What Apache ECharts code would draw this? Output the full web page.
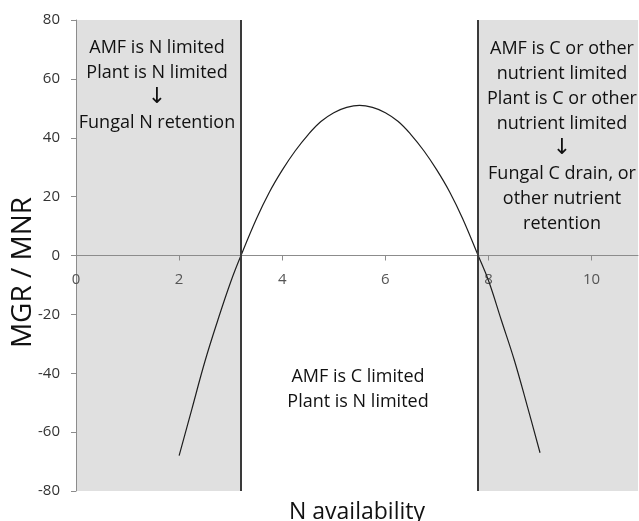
<!DOCTYPE html>
<html><head><meta charset="utf-8">
<script src="https://cdn.jsdelivr.net/npm/echarts@6/dist/echarts.min.js"></script>
<style>html,body{margin:0;padding:0;background:#fff}#c{width:639px;height:521px}</style>
</head><body><div id="c"></div>
<script>
var xValues = [2, 2.25, 2.5, 2.75, 3, 3.2, 3.5, 3.75, 4, 4.25, 4.5, 4.75, 5, 5.25, 5.5, 5.75, 6, 6.25, 6.5, 6.75, 7, 7.25, 7.5, 7.8, 8, 8.25, 8.5, 8.75, 9];
var yValues = [-68, -52, -36, -22, -9, 0, 12.5, 21.5, 29, 35.5, 41, 45.5, 48.5, 50.3, 51, 50.3, 48.5, 45.5, 41, 35.5, 29, 21.5, 12.5, 0, -8.5, -22, -35.5, -51, -67];
var xTicks = [0, 2, 4, 6, 8, 10];
var boundaries = [3.2, 7.8];
var xRange = [0, 10.9];
var yRange = [-80, 80];
var leftText = ['AMF is N limited', 'Plant is N limited', '\u2193', 'Fungal N retention'];
var rightText = ['AMF is C or other', 'nutrient limited', 'Plant is C or other', 'nutrient limited', '\u2193', 'Fungal C drain, or', 'other nutrient', 'retention'];
var midText = ['AMF is C limited', 'Plant is N limited'];

var FONT = 'Open Sans';
var chart = echarts.init(document.getElementById('c'));
var pts = xValues.map(function (x, i) { return [x, yValues[i]]; });
function toRich(lines) {
  return lines.map(function (l) { return l === '\u2193' ? '{a|' + l + '}' : '{t|' + l + '}'; }).join('\n');
}
var rich = {
  t: {fontFamily: FONT, fontSize: 18, color: '#111', lineHeight: 25, align: 'center'},
  a: {fontFamily: 'DejaVu Sans', fontSize: 22, color: '#111', lineHeight: 25, align: 'center'}
};
function txt(cx, top, lines) {
  return {type: 'text', x: cx, y: top, z: 10,
    style: {text: toRich(lines), rich: rich, align: 'center', verticalAlign: 'top', fontFamily: FONT, fontSize: 18, fill: '#111'}};
}
chart.setOption({
  animation: false,
  grid: {left: 76, right: 1, top: 20, bottom: 30, outerBoundsMode: 'none', containLabel: false},
  xAxis: {
    type: 'value', min: xRange[0], max: xRange[1], interval: 2, z: 3,
    name: 'N availability', nameLocation: 'middle', nameGap: 10, nameMoveOverlap: false,
    nameTextStyle: {fontFamily: FONT, fontSize: 23, color: '#111'},
    axisLine: {onZero: true, lineStyle: {color: '#8c8c8c', width: 1}},
    axisTick: {show: true, length: 5, customValues: xTicks, lineStyle: {color: '#8c8c8c'}},
    axisLabel: {customValues: xTicks, margin: -219, fontFamily: FONT, fontSize: 15, color: '#555'},
    splitLine: {show: false}
  },
  yAxis: {
    type: 'value', min: yRange[0], max: yRange[1], interval: 20, z: 3,
    name: 'MGR / MNR', nameLocation: 'middle', nameGap: 39, nameRotate: 90, nameMoveOverlap: false,
    nameTextStyle: {fontFamily: FONT, fontSize: 28, color: '#111', padding: [0, 34, 0, 0]},
    axisLine: {show: true, lineStyle: {color: '#8c8c8c', width: 1}},
    axisTick: {show: true, length: 5, lineStyle: {color: '#8c8c8c'}},
    axisLabel: {margin: 16, fontFamily: FONT, fontSize: 15, color: '#333'},
    splitLine: {show: false}
  },
  series: [{
    type: 'line', data: pts, smooth: 0.4, showSymbol: false,
    lineStyle: {color: '#1e1e1e', width: 1.2},
    markArea: {
      silent: true, z: 1,
      itemStyle: {color: '#e0e0e0'},
      data: [
        [{xAxis: xRange[0]}, {xAxis: boundaries[0]}],
        [{xAxis: boundaries[1]}, {xAxis: xRange[1]}]
      ]
    },
    markLine: {
      silent: true, symbol: 'none', label: {show: false},
      lineStyle: {color: '#3a3a3a', width: 2, type: 'solid'},
      data: boundaries.map(function (b) { return {xAxis: b}; })
    }
  }],
  graphic: [
    txt(157, 35, leftText),
    txt(562, 36, rightText),
    txt(358, 364, midText)
  ]
});
</script></body></html>
